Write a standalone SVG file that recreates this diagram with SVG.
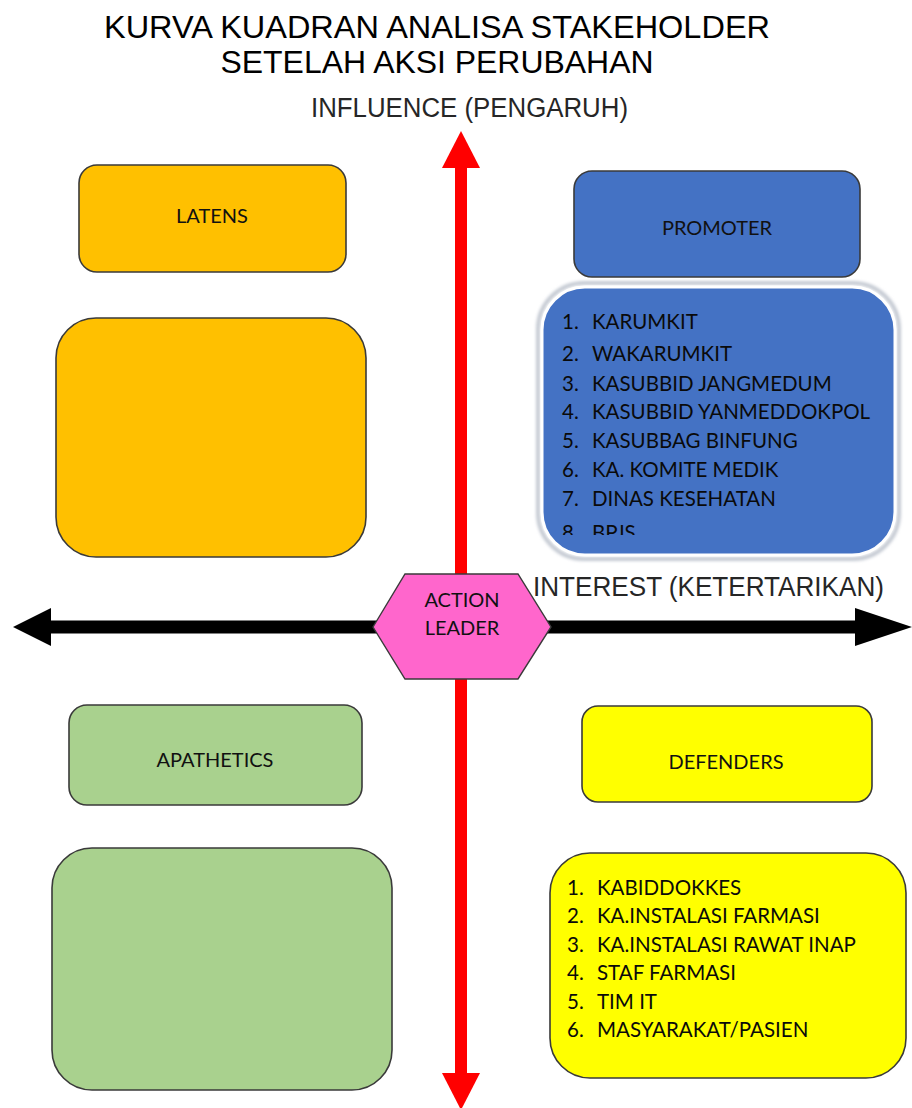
<svg xmlns="http://www.w3.org/2000/svg" width="912" height="1108" viewBox="0 0 912 1108">
  <style>
    .title { font-family: "Liberation Sans", Arial, sans-serif; font-size: 32px; fill: #000; text-anchor: middle; }
    .axis { font-family: "Liberation Sans", Arial, sans-serif; font-size: 27px; fill: #262626; }
    .box { stroke: #3a3a3a; stroke-width: 1.6; }
    .lbl { font-family: Lato, "Open Sans", sans-serif; font-size: 20px; fill: #111; text-anchor: middle; }
    .item { font-family: Lato, "Open Sans", sans-serif; font-size: 20.5px; fill: #0a0a0a; }
  </style>
  <defs>
    <filter id="soft" x="-10%" y="-10%" width="120%" height="120%">
      <feGaussianBlur stdDeviation="1.5"/>
    </filter>
    <clipPath id="promoClip">
      <rect x="540" y="300" width="350" height="235"/>
    </clipPath>
  </defs>

  <!-- title -->
  <g id="title">
    <text class="title" x="437" y="38" textLength="666" lengthAdjust="spacingAndGlyphs">KURVA KUADRAN ANALISA STAKEHOLDER</text>
    <text class="title" x="437" y="73" textLength="433" lengthAdjust="spacingAndGlyphs">SETELAH AKSI PERUBAHAN</text>
  </g>

  <!-- axes -->
  <g id="connectors">
    <!-- vertical influence axis -->
    <rect x="455" y="166" width="12" height="909" fill="#ff0000"/>
    <polygon points="461,131 480,168 442,168" fill="#ff0000"/>
    <polygon points="442,1073 480,1073 461,1110" fill="#ff0000"/>
    <!-- horizontal interest axis -->
    <rect x="48" y="620.5" width="810" height="13" fill="#000"/>
    <polygon points="13,627 51,608 51,646" fill="#000"/>
    <polygon points="912,627 855,608 855,646" fill="#000"/>
  </g>

  <g id="axis-labels">
    <text class="axis" x="311" y="117" textLength="317" lengthAdjust="spacingAndGlyphs">INFLUENCE (PENGARUH)</text>
    <text class="axis" x="533" y="596" textLength="351" lengthAdjust="spacingAndGlyphs">INTEREST (KETERTARIKAN)</text>
  </g>

  <!-- latens quadrant -->
  <g id="latens">
    <rect class="box" x="79" y="165" width="267" height="107" rx="18" fill="#ffc000"/>
    <text class="lbl" x="212" y="223">LATENS</text>
  </g>
  <g id="latens-list">
    <rect class="box" x="56" y="318" width="310" height="239" rx="40" fill="#ffc000"/>
  </g>

  <!-- promoter quadrant -->
  <g id="promoter">
    <rect class="box" x="574" y="171" width="286" height="106" rx="18" fill="#4472c4"/>
    <text class="lbl" x="717" y="235">PROMOTER</text>
  </g>
  <g id="promoter-list">
    <rect x="538" y="283" width="361" height="276" rx="46" fill="none" stroke="#c5cad3" stroke-width="4" filter="url(#soft)"/>
    <rect x="542" y="287" width="353" height="268" rx="43" fill="#4472c4" stroke="#ffffff" stroke-width="3"/>
    <g clip-path="url(#promoClip)">
      <text class="item" x="562" y="329">1.</text><text class="item" x="592" y="329">KARUMKIT</text>
      <text class="item" x="562" y="361">2.</text><text class="item" x="592" y="361">WAKARUMKIT</text>
      <text class="item" x="562" y="391">3.</text><text class="item" x="592" y="391">KASUBBID JANGMEDUM</text>
      <text class="item" x="562" y="419">4.</text><text class="item" x="592" y="419">KASUBBID YANMEDDOKPOL</text>
      <text class="item" x="562" y="448">5.</text><text class="item" x="592" y="448">KASUBBAG BINFUNG</text>
      <text class="item" x="562" y="477">6.</text><text class="item" x="592" y="477">KA. KOMITE MEDIK</text>
      <text class="item" x="562" y="506">7.</text><text class="item" x="592" y="506">DINAS KESEHATAN</text>
      <text class="item" x="562" y="540">8.</text><text class="item" x="592" y="540">BPJS</text>
    </g>
  </g>

  <!-- apathetics quadrant -->
  <g id="apathetics">
    <rect class="box" x="69" y="705" width="293" height="100" rx="18" fill="#a9d18e"/>
    <text class="lbl" x="215" y="767">APATHETICS</text>
  </g>
  <g id="apathetics-list">
    <rect class="box" x="52" y="848" width="340" height="242" rx="40" fill="#a9d18e"/>
  </g>

  <!-- defenders quadrant -->
  <g id="defenders">
    <rect class="box" x="582" y="706" width="290" height="96" rx="16" fill="#ffff00"/>
    <text class="lbl" x="726" y="769">DEFENDERS</text>
  </g>
  <g id="defenders-list">
    <rect class="box" x="550" y="853" width="356" height="225" rx="40" fill="#ffff00"/>
    <text class="item" x="567" y="895">1.</text><text class="item" x="597" y="895">KABIDDOKKES</text>
    <text class="item" x="567" y="923">2.</text><text class="item" x="597" y="923">KA.INSTALASI FARMASI</text>
    <text class="item" x="567" y="952">3.</text><text class="item" x="597" y="952">KA.INSTALASI RAWAT INAP</text>
    <text class="item" x="567" y="980">4.</text><text class="item" x="597" y="980">STAF FARMASI</text>
    <text class="item" x="567" y="1009">5.</text><text class="item" x="597" y="1009">TIM IT</text>
    <text class="item" x="567" y="1037">6.</text><text class="item" x="597" y="1037">MASYARAKAT/PASIEN</text>
  </g>

  <!-- centre hexagon -->
  <g id="action-leader">
    <polygon points="373,627 405,574 518,574 551,627 518,679 405,679" fill="#ff66cc" stroke="#3a3a3a" stroke-width="1.4"/>
    <text class="lbl" x="462" y="607">ACTION</text>
    <text class="lbl" x="462" y="635">LEADER</text>
  </g>
</svg>
